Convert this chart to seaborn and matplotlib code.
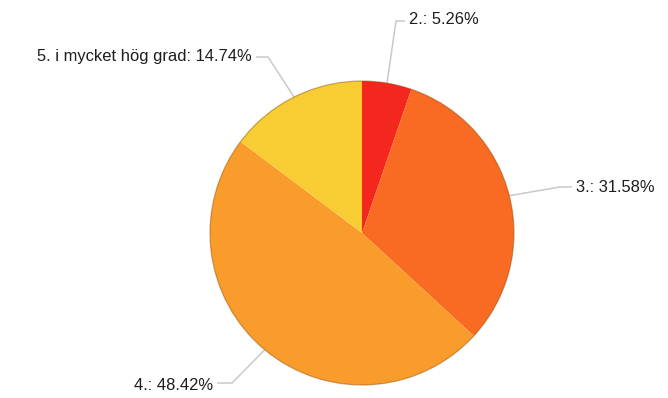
import numpy as np
import matplotlib
matplotlib.use("Agg")
import matplotlib.pyplot as plt
from matplotlib.patches import Circle
import seaborn as sns

# Survey answers and their shares (percent)
categories = ["2.", "3.", "4.", "5. i mycket hög grad"]
shares = [5.26, 31.58, 48.42, 14.74]
colors = ["#F4271E", "#F96A22", "#F99C2B", "#F8CD33"]

# Label placement: elbow point and text anchor, in pixel units (y from top)
elbows = [(396, 21), (560, 187), (232, 383), (268, 57)]
text_pos = [(409, 20), (576, 188), (213, 385), (252, 57)]
text_ha = ["left", "left", "right", "right"]

sns.set_theme(style="white")
plt.rcParams["font.family"] = ["Liberation Sans", "DejaVu Sans"]

W, H = 668, 398
fig = plt.figure(figsize=(W / 100, H / 100), dpi=100)
ax = fig.add_axes([0, 0, 1, 1])

cx, cy, r = 362, H - 233, 152
wedges, _ = ax.pie(
    shares,
    colors=colors,
    startangle=90,
    counterclock=False,
    center=(cx, cy),
    radius=r,
    frame=True,
    wedgeprops=dict(linewidth=0, antialiased=True),
)
# thin shaded rim around the pie
ax.add_patch(Circle((cx, cy), r, fill=False, lw=0.9,
                    edgecolor=(0.55, 0.3, 0.0, 0.45), zorder=3))
ax.set_xlim(0, W)
ax.set_ylim(0, H)
ax.set_aspect("equal")
ax.axis("off")

line_color = "#c9c9c9"
for w, cat, val, (ex, ey), (tx, ty), ha in zip(
    wedges, categories, shares, elbows, text_pos, text_ha
):
    mid = np.deg2rad((w.theta1 + w.theta2) / 2)
    px, py = cx + r * np.cos(mid), cy + r * np.sin(mid)
    ey_d, ty_d = H - ey, H - ty
    end_x = tx - 4 if ha == "left" else tx + 4
    ax.plot([px, ex, end_x], [py, ey_d, ey_d], color=line_color, lw=1.1,
            solid_capstyle="butt", zorder=1)
    ax.text(tx, ty_d, f"{cat}: {val:.2f}%", ha=ha, va="center",
            fontsize=11.9, color="#1e1e1e")

fig.savefig("out.png", dpi=100, facecolor="white")
